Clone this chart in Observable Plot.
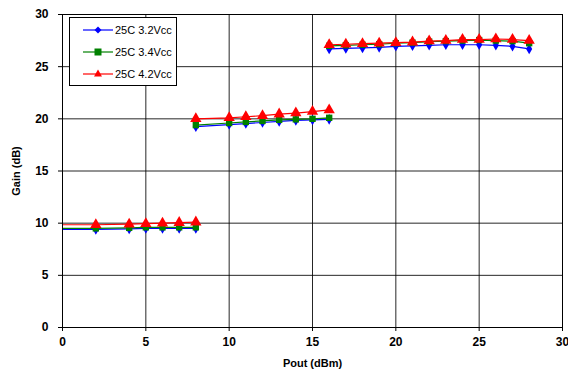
<!DOCTYPE html>
<html><head><meta charset="utf-8">
<script src="https://cdn.jsdelivr.net/npm/d3@7"></script>
<script src="https://cdn.jsdelivr.net/npm/@observablehq/plot@0.6"></script>
<style>
body{margin:0;background:#fff;font-family:"Liberation Sans",Arial,sans-serif;}
#wrap{position:relative;width:568px;height:380px;}
#wrap svg text{font-weight:bold;}
#legend{position:absolute;left:69px;top:17px;width:108px;height:69px;border:1px solid #000;background:#fff;box-sizing:border-box;}
.li{position:absolute;left:0;height:14px;font-size:11px;color:#000;}
.li svg{position:absolute;left:13px;top:1px;}
.li span{position:absolute;left:45px;top:0;white-space:nowrap;line-height:14px;}
</style></head>
<body><div id="wrap"><div id="legend"></div></div>
<script>
const seriesNames = ["25C 3.2Vcc", "25C 3.4Vcc", "25C 4.2Vcc"];
const seriesColors = ["#0000ff", "#008000", "#ff0000"];
const seriesSymbols = ["diamond", "square", "triangle"];
const seriesR = [3.2, 3.6, 4.2];

const x1 = [-2, 2, 4, 5, 6, 7, 8];
const blue1 = [9.4, 9.4, 9.45, 9.5, 9.5, 9.5, 9.5];
const green1 = [9.5, 9.5, 9.55, 9.6, 9.6, 9.6, 9.6];
const red1 = [9.85, 9.85, 9.9, 9.95, 10.0, 10.05, 10.1];

const x2 = [8, 10, 11, 12, 13, 14, 15, 16];
const blue2 = [19.25, 19.45, 19.55, 19.65, 19.75, 19.85, 19.9, 19.95];
const green2 = [19.4, 19.6, 19.7, 19.8, 19.9, 19.95, 20.0, 20.1];
const red2 = [20.0, 20.1, 20.2, 20.3, 20.45, 20.55, 20.7, 20.85];

const x3 = [16, 17, 18, 19, 20, 21, 22, 23, 24, 25, 26, 27, 28];
const blue3 = [26.7, 26.75, 26.8, 26.85, 26.95, 27.0, 27.05, 27.1, 27.1, 27.1, 27.05, 26.95, 26.7];
const green3 = [27.0, 27.05, 27.1, 27.15, 27.25, 27.3, 27.4, 27.45, 27.5, 27.55, 27.5, 27.45, 27.25];
const red3 = [27.1, 27.15, 27.2, 27.25, 27.3, 27.35, 27.45, 27.5, 27.6, 27.6, 27.65, 27.6, 27.5];

const ticks = [0, 5, 10, 15, 20, 25, 30];

const segs = [
  [x1, [blue1, green1, red1]],
  [x2, [blue2, green2, red2]],
  [x3, [blue3, green3, red3]]
];
const data = [];
segs.forEach(([xs, ys], si) => {
  ys.forEach((arr, k) => {
    xs.forEach((x, i) => data.push({series: seriesNames[k], seg: si, x, y: arr[i]}));
  });
});

const font = '"Liberation Sans", Arial, sans-serif';
const marks = [
  Plot.ruleX(ticks, {stroke: "#000", strokeWidth: 1, strokeOpacity: 0.85}),
  Plot.ruleY(ticks, {stroke: "#000", strokeWidth: 1, strokeOpacity: 0.85}),
  Plot.axisX({ticks, tickSize: 4, fontSize: 12, tickPadding: 6, label: "Pout (dBm)", labelAnchor: "center", labelArrow: "none", labelOffset: 39}),
  Plot.axisY({ticks, tickSize: 4, fontSize: 12, tickPadding: 10, label: "Gain (dB)", labelAnchor: "center", labelArrow: "none", labelOffset: 50}),
];
seriesNames.forEach((name, k) => {
  const d = data.filter(r => r.series === name);
  marks.push(Plot.line(d, {x: "x", y: "y", z: "seg", stroke: seriesColors[k], strokeWidth: 1.2, clip: true}));
});
seriesNames.forEach((name, k) => {
  const d = data.filter(r => r.series === name);
  marks.push(Plot.dot(d, {x: "x", y: "y", symbol: () => seriesSymbols[k], r: seriesR[k], fill: seriesColors[k], stroke: "none", clip: true}));
});
marks.push(Plot.frame({stroke: "#000"}));

const chart = Plot.plot({
  width: 568, height: 380,
  marginLeft: 62, marginRight: 6, marginTop: 14, marginBottom: 53,
  style: {fontFamily: font, fontSize: "12px", color: "#000", background: "#fff"},
  x: {domain: [0, 30]},
  y: {domain: [0, 30]},
  symbol: {domain: seriesSymbols, range: seriesSymbols},
  marks
});
const wrap = document.getElementById("wrap");
wrap.insertBefore(chart, wrap.firstChild);
chart.querySelectorAll("g[aria-label='x-axis label'] text, g[aria-label='y-axis label'] text").forEach(t => {t.setAttribute("font-size","11");});

const legend = document.getElementById("legend");
const ys = [5, 27, 49];
const symPaths = {
  diamond: "M15,2.5 L18.5,6 L15,9.5 L11.5,6Z",
  square: "M11.5,2.5 H18.5 V9.5 H11.5Z",
  triangle: "M15,1.5 L19,8.5 L11,8.5Z"
};
seriesNames.forEach((n, k) => {
  const div = document.createElement("div");
  div.className = "li";
  div.style.top = ys[k] + "px";
  div.innerHTML = `<svg width="32" height="12"><line x1="0" x2="30" y1="6" y2="6" stroke="${seriesColors[k]}" stroke-width="1.2"/><path d="${symPaths[seriesSymbols[k]]}" fill="${seriesColors[k]}"/></svg><span>${n}</span>`;
  legend.appendChild(div);
});
</script>
</body></html>
